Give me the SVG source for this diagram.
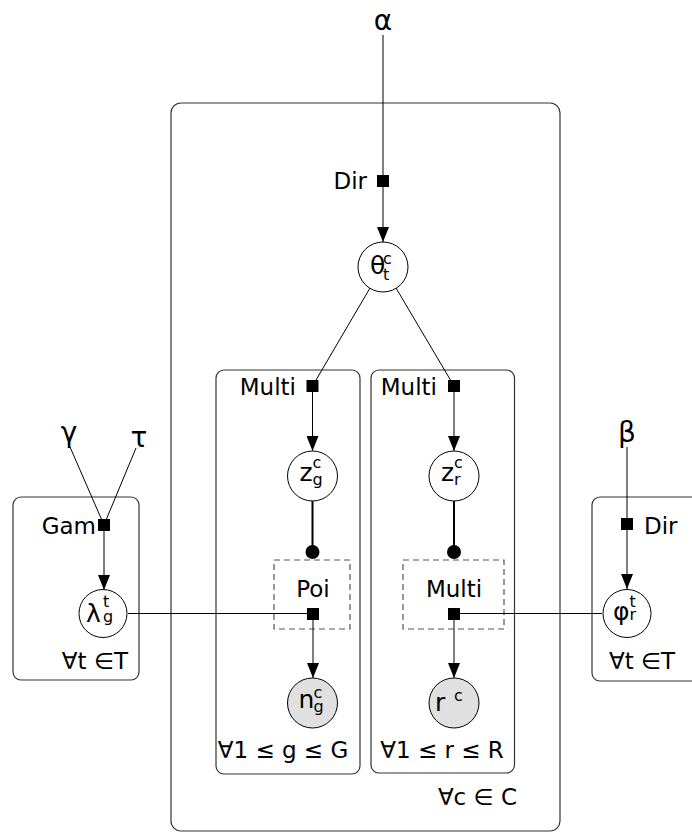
<svg xmlns="http://www.w3.org/2000/svg" width="692" height="833" viewBox="0 0 692 833">
<style>
text{font-family:"DejaVu Sans","Liberation Sans",sans-serif;fill:#000}
.lbl{font-size:23px}
.gr{font-size:28px;text-anchor:middle}
.mn{font-size:25px}
.ss{font-size:16px}
.plate{fill:none;stroke:#333;stroke-width:1.2}
.dash{fill:none;stroke:#555;stroke-width:1.2;stroke-dasharray:6 4}
.edge{fill:none;stroke:#000;stroke-width:1}
.thick{fill:none;stroke:#000;stroke-width:2}
.var{fill:#fff;stroke:#000;stroke-width:1}
.obs{fill:#e0e0e0;stroke:#000;stroke-width:1}
.fac{fill:#000}
</style>
<defs>
<marker id="arr" markerUnits="userSpaceOnUse" markerWidth="15" markerHeight="12" refX="15" refY="6" orient="auto">
<path d="M0,0 L15,6 L0,12 z" fill="#000"/>
</marker>
</defs>
<rect width="692" height="833" fill="#fff"/>
<g id="plates">
<rect id="plate-C" class="plate" x="171" y="103" width="389" height="728" rx="10"/>
<rect id="plate-G" class="plate" x="216" y="370" width="144" height="404" rx="8"/>
<rect id="plate-R" class="plate" x="371" y="370" width="143.5" height="403" rx="8"/>
<rect id="plate-T1" class="plate" x="13" y="497" width="126" height="183" rx="8"/>
<rect id="plate-T2" class="plate" x="592" y="497" width="110" height="184" rx="8"/>
<rect id="gate-poi" class="dash" x="274" y="560" width="76" height="69"/>
<rect id="gate-multi" class="dash" x="403" y="560" width="101" height="69"/>
</g>
<g id="connectors">
<path class="edge" d="M383,35 L383,242" marker-end="url(#arr)"/>
<path class="edge" d="M370,288 L312.5,386"/>
<path class="edge" d="M396,288 L454,386"/>
<path class="edge" d="M312.5,386 L312.5,451" marker-end="url(#arr)"/>
<path class="edge" d="M454,386 L454,451" marker-end="url(#arr)"/>
<path class="thick" d="M312.5,501 L312.5,552"/>
<path class="thick" d="M454,501 L454,552"/>
<path class="edge" d="M313,614 L313,678" marker-end="url(#arr)"/>
<path class="edge" d="M454,614 L454,678" marker-end="url(#arr)"/>
<path class="edge" d="M70,447 L104,525"/>
<path class="edge" d="M136,448 L104,525"/>
<path class="edge" d="M104,525 L104,590" marker-end="url(#arr)"/>
<path class="edge" d="M627,447 L627,589" marker-end="url(#arr)"/>
<path class="edge" d="M128,613.5 L313,613.5"/>
<path class="edge" d="M454,613.5 L602,613.5"/>
</g>
<g id="alpha"><text class="gr" x="383" y="30">α</text></g>
<g id="gamma"><text class="gr" x="69" y="442">γ</text></g>
<g id="tau"><text class="gr" x="139" y="447">τ</text></g>
<g id="beta"><text class="gr" x="627" y="442">β</text></g>
<g id="f-dir-theta">
<rect class="fac" x="377" y="175" width="12" height="12"/>
<text class="lbl" x="367" y="189" text-anchor="end">Dir</text>
</g>
<g id="theta">
<circle class="var" cx="383" cy="267" r="25"/>
<text class="mn" x="370" y="274" font-size="23">θ</text>
<text class="ss" x="383" y="264" font-size="14">c</text>
<text class="ss" x="383" y="280" font-size="14">t</text>
</g>
<g id="f-multi-g">
<rect class="fac" x="306.5" y="380" width="12" height="12"/>
<text class="lbl" x="296" y="395" text-anchor="end">Multi</text>
</g>
<g id="f-multi-r">
<rect class="fac" x="448" y="380" width="12" height="12"/>
<text class="lbl" x="437" y="395" text-anchor="end">Multi</text>
</g>
<g id="z-g">
<circle class="var" cx="312.5" cy="476" r="25"/>
<text class="mn" x="299.5" y="481">z</text>
<text class="ss" x="312.5" y="468">c</text>
<text class="ss" x="312.5" y="485">g</text>
</g>
<g id="z-r">
<circle class="var" cx="454" cy="476" r="25"/>
<text class="mn" x="441" y="481">z</text>
<text class="ss" x="454" y="468">c</text>
<text class="ss" x="454" y="485">r</text>
</g>
<g id="gate-dot-g"><circle class="fac" cx="312.5" cy="552" r="7"/></g>
<g id="gate-dot-r"><circle class="fac" cx="454" cy="552" r="7"/></g>
<g id="f-poi">
<rect class="fac" x="307" y="608" width="12" height="12"/>
<text class="lbl" x="313" y="597" text-anchor="middle">Poi</text>
</g>
<g id="f-multi-obs">
<rect class="fac" x="448" y="608" width="12" height="12"/>
<text class="lbl" x="454" y="597" text-anchor="middle">Multi</text>
</g>
<g id="n-g">
<circle class="obs" cx="312.5" cy="703" r="25"/>
<text class="mn" x="298.5" y="708">n</text>
<text class="ss" x="313.5" y="698">c</text>
<text class="ss" x="313.5" y="712">g</text>
</g>
<g id="r-c">
<circle class="obs" cx="454" cy="703" r="25"/>
<text class="mn" x="435" y="711">r</text>
<text class="ss" x="454" y="701">c</text>
</g>
<g id="f-gam">
<rect class="fac" x="98" y="519" width="12" height="12"/>
<text class="lbl" x="96" y="534" text-anchor="end">Gam</text>
</g>
<g id="lambda">
<circle class="var" cx="103" cy="613.5" r="24"/>
<text class="mn" x="86" y="622" font-size="26">λ</text>
<text class="ss" x="103" y="607">t</text>
<text class="ss" x="103" y="622">g</text>
</g>
<g id="f-dir-phi">
<rect class="fac" x="621" y="518" width="12" height="12"/>
<text class="lbl" x="644" y="534">Dir</text>
</g>
<g id="phi">
<circle class="var" cx="627" cy="613.5" r="24"/>
<text class="mn" x="613" y="620">φ</text>
<text class="ss" x="629.5" y="607">t</text>
<text class="ss" x="629.5" y="620">r</text>
</g>
<g id="plate-labels">
<text class="lbl" x="128" y="669" text-anchor="end">∀t ∈T</text>
<text class="lbl" x="609" y="669">∀t ∈T</text>
<text class="lbl" x="283" y="758" text-anchor="middle">∀1 ≤ g ≤ G</text>
<text class="lbl" x="442" y="758" text-anchor="middle">∀1 ≤ r ≤ R</text>
<text class="lbl" x="517" y="805" text-anchor="end">∀c ∈ C</text>
</g>
</svg>
